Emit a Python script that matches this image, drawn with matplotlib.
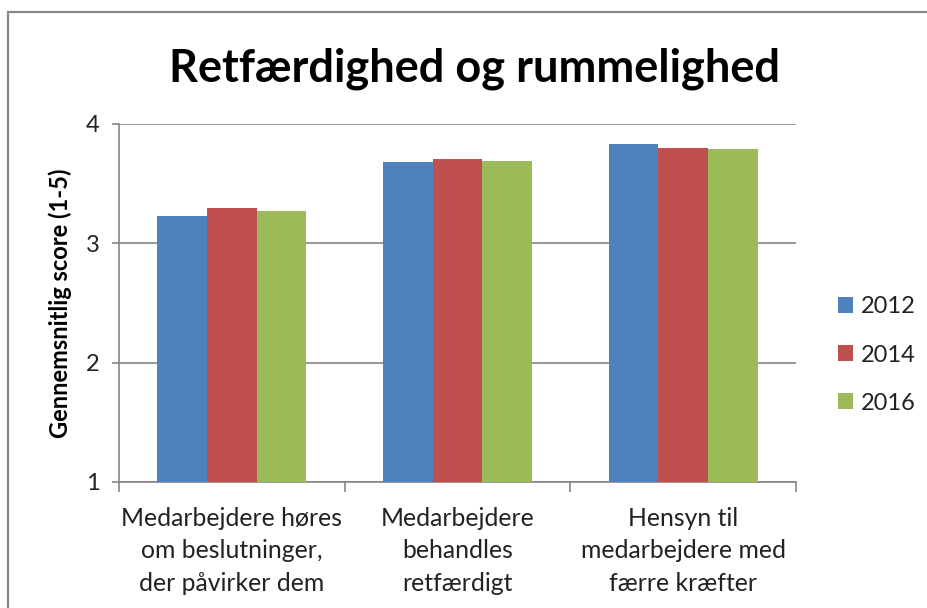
import matplotlib
matplotlib.use('Agg')
import matplotlib.pyplot as plt
from matplotlib.patches import Rectangle
import numpy as np

categories = ["Medarbejdere høres\nom beslutninger,\nder påvirker dem",
              "Medarbejdere\nbehandles\nretfærdigt",
              "Hensyn til\nmedarbejdere med\nfærre kræfter"]
years = ["2012", "2014", "2016"]
v2012 = [3.23, 3.68, 3.83]
v2014 = [3.30, 3.71, 3.80]
v2016 = [3.27, 3.69, 3.79]
series = [v2012, v2014, v2016]
colors = ['#4F81BD', '#C0504D', '#9BBB59']
yticks = [1, 2, 3, 4]
title = "Retfærdighed og rummelighed"
ylabel = "Gennemsnitlig score (1-5)"

plt.rcParams['font.family'] = ['Lato', 'DejaVu Sans']

W, H = 928, 608
fig = plt.figure(figsize=(W / 100, H / 100), dpi=100)
ax = fig.add_axes([119 / W, 1 - 482 / H, 677 / W, 358 / H])

x = np.arange(len(categories))
bw = 0.22
for i, (vals, c, lab) in enumerate(zip(series, colors, years)):
    ax.bar(x + (i - 1) * bw, vals, bw, color=c, label=lab, zorder=3)

ax.set_xlim(-0.5, len(categories) - 0.5)
ax.set_ylim(1, 4)
ax.set_yticks(yticks)
ax.set_yticklabels([str(t) for t in yticks], fontsize=17, color='#222222')
ax.yaxis.grid(True, color='#868686', lw=1.2, zorder=0)
ax.set_axisbelow(True)

ax.set_xticks(np.arange(-0.5, len(categories)))
ax.set_xticklabels([])
ax.set_xticks(x, minor=True)
ax.set_xticklabels(categories, minor=True, fontsize=17.8, color='#222222', linespacing=1.5)
ax.tick_params(axis='x', which='major', length=7, width=1.2, color='#868686', direction='out')
ax.tick_params(axis='x', which='minor', length=0, pad=18)
ax.tick_params(axis='y', length=5, width=1.2, color='#868686', direction='out', pad=9)

for s in ['top', 'right']:
    ax.spines[s].set_visible(False)
for s in ['left', 'bottom']:
    ax.spines[s].set_color('#868686')
    ax.spines[s].set_linewidth(1.2)

fig.text(475 / W, 1 - 82 / H, title, ha='center', va='baseline',
         fontsize=32.5, fontweight='bold', color='black')
fig.text(60 / W, 1 - 303 / H, ylabel, ha='center', va='center', rotation=90,
         fontsize=17, fontweight='bold', color='black')

leg = fig.legend(loc='center left', bbox_to_anchor=(838 / W, 1 - 355 / H),
                 frameon=False, fontsize=17, handlelength=0.65, handleheight=0.65,
                 handletextpad=0.3, labelspacing=1.15, borderpad=0, borderaxespad=0)
for t in leg.get_texts():
    t.set_color('#222222')

fig.patches.append(Rectangle((8 / W, -0.1), 1.2, 1.1 - 12 / H, transform=fig.transFigure,
                             fill=False, ec='#898989', lw=1.6, zorder=10))

fig.savefig('out.png', dpi=100)
